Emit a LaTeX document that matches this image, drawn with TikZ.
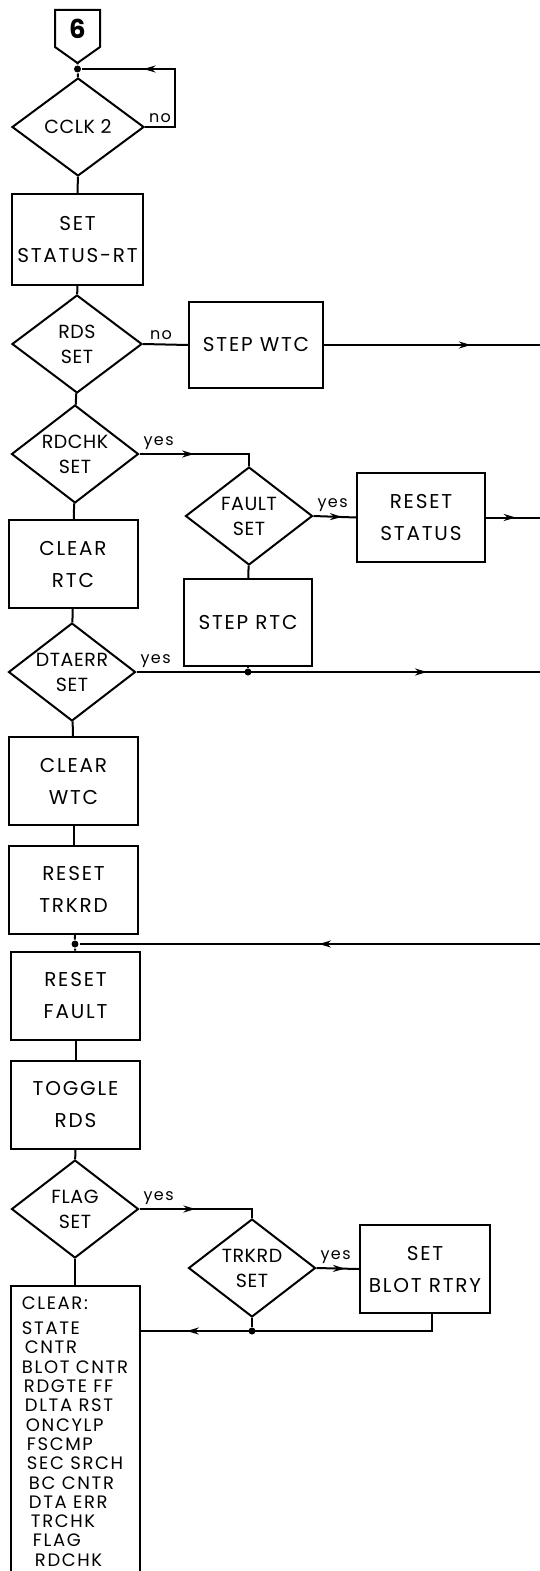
\documentclass[tikz,border=0pt]{standalone}
\usepackage{fontspec}
\setmainfont{Poppins}[LetterSpace=9]
\usetikzlibrary{arrows.meta,shapes.geometric,decorations.markings}

\begin{document}
\begin{tikzpicture}[
  x=1pt, y=-1pt,
  line width=2pt,
  box/.style={draw, align=center, minimum width=129, minimum height=88, inner sep=2pt, font=\fontsize{20}{32}\selectfont},
  test/.style={draw, diamond, align=center, minimum width=127, minimum height=98, inner sep=-16pt, font=\fontsize{19}{25}\selectfont\addfontfeatures{LetterSpace=3}},
  lbl/.style={font=\fontsize{16}{16}\selectfont, inner sep=3pt},
  dot/.style={circle, fill, inner sep=0pt, minimum size=7},
  flow/.style={postaction={decorate, decoration={markings, mark=at position #1 with {\arrow{Stealth[length=12pt,width=7pt]}}}}}
]
\useasboundingbox (0,0) rectangle (540,1571);
\clip (0,0) rectangle (540,1571);
% entry connector
\draw (55,10) -- (100,10) -- (100,47) -- (77.5,63) -- (55,47) -- cycle;
\node[font=\fontsize{26}{26}\selectfont\bfseries] (six) at (77.5,29) {6};
\coordinate (sixtip) at (77.5,63);
\node[dot] (j1) at (77.5,69) {};
% main column
\node[test, minimum width=132] (cclk) at (78,127) {CCLK 2};
\node[box, minimum width=131, minimum height=91] (setst) at (77.5,239.5) {SET\\STATUS-RT};
\node[test, minimum width=130] (rds) at (77,344) {RDS\\SET};
\node[test] (rdchk) at (75,454) {RDCHK\\SET};
\node[box] (clrrtc) at (73,564) {CLEAR\\RTC};
\node[test] (dtaerr) at (72,672) {DTAERR\\SET};
\node[box] (clrwtc) at (73.5,781) {CLEAR\\WTC};
\node[box] (rsttrk) at (73.5,889.5) {RESET\\TRKRD};
\node[dot] (j2) at (75,944) {};
\node[box] (rstflt) at (75.5,995.5) {RESET\\FAULT};
\node[box] (tglrds) at (75.5,1104.5) {TOGGLE\\RDS};
\node[test] (flag) at (75,1209) {FLAG\\SET};
\node[box, anchor=north, minimum height=291, align=left, font=\fontsize{18}{19.3}\selectfont] (clear) at (75,1285)
  {CLEAR:\\[6pt]
   STATE\\
   \hspace*{3pt}CNTR\\
   BLOT CNTR\\
   \hspace*{2pt}RDGTE FF\\
   \hspace*{3pt}DLTA RST\\
   \hspace*{4pt}ONCYLP\\
   \hspace*{5pt}FSCMP\\
   \hspace*{5pt}SEC SRCH\\
   \hspace*{7pt}BC CNTR\\
   \hspace*{7pt}DTA ERR\\
   \hspace*{9pt}TRCHK\\
   \hspace*{11pt}FLAG\\
   \hspace*{13pt}RDCHK};
% right branch
\node[box, minimum width=134, minimum height=86] (stepwtc) at (256,345) {STEP WTC};
\node[test] (fault) at (249,516) {FAULT\\SET};
\node[box, minimum width=128, minimum height=89] (rststat) at (421,517.5) {RESET\\STATUS};
\node[box, minimum width=128, minimum height=87] (steprtc) at (248,622.5) {STEP RTC};
\node[dot] (j3) at (steprtc.south |- dtaerr.east) {};
\node[test] (trkrd) at (252,1268) {TRKRD\\SET};
\node[box, minimum width=130] (setblot) at (425,1269) {SET\\BLOT RTRY};
\node[dot] (j4) at (252,1331) {};
\coordinate (edge) at (540,0);
% connectors
\draw (sixtip) -- (j1) -- (cclk.north);
\draw[flow=0.66] (cclk.east) -- node[lbl, at start, above right]{no} ++(30,0) |- (j1);
\draw (cclk) -- (setst);
\draw (setst) -- (rds);
\draw (rds.east) -- node[lbl, at start, above right, xshift=3pt]{no} (stepwtc.west);
\draw[flow=0.68] (stepwtc.east) -- (stepwtc.east -| edge);
\draw (rds) -- (rdchk);
\draw[flow=0.45] (rdchk.east) -| node[lbl, at start, above right]{yes} (fault.north);
\draw[flow=0.67] (fault.east) -- node[lbl, at start, above right]{yes} (rststat.west);
\draw[flow=0.55] (rststat.east) -- (rststat.east -| edge);
\draw (fault) -- (steprtc);
\draw (steprtc) -- (j3);
\draw (rdchk) -- (clrrtc);
\draw (clrrtc) -- (dtaerr);
\draw[flow=0.72] (dtaerr.east) -- node[lbl, at start, above right]{yes} (dtaerr.east -| edge);
\draw (dtaerr) -- (clrwtc);
\draw (clrwtc) -- (rsttrk);
\draw (rsttrk) -- (j2) -- (rstflt);
\draw[flow=0.48] (j2 -| edge) -- (j2);
\draw (rstflt) -- (tglrds);
\draw (tglrds) -- (flag);
\draw (flag) -- (clear);
\draw[flow=0.46] (flag.east) -| node[lbl, at start, above right]{yes} (trkrd.north);
\draw[flow=0.67] (trkrd.east) -- node[lbl, at start, above right]{yes} (setblot.west);
\draw (trkrd) -- (j4);
\draw[flow=0.85] ([xshift=7]setblot.south) |- (clear.east |- j4);
\end{tikzpicture}
\end{document}
